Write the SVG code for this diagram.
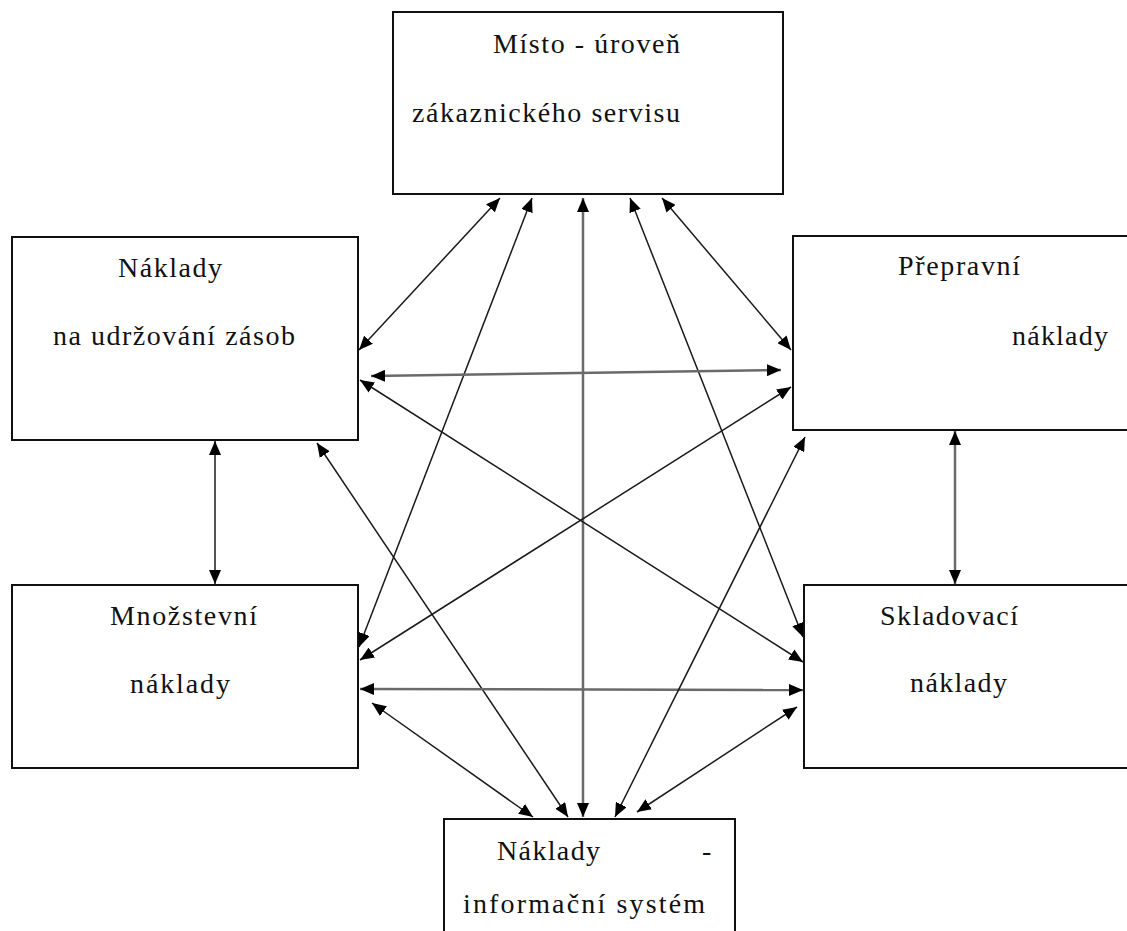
<svg xmlns="http://www.w3.org/2000/svg" width="1127" height="931" viewBox="0 0 1127 931">
<style>
.box{fill:#fff;stroke:#111;stroke-width:2}
.t{font-family:"Liberation Serif","Times New Roman",serif;font-size:28px;fill:#111}
.c{stroke:#1a1a1a;stroke-width:1.5;fill:none;marker-start:url(#ah);marker-end:url(#ah)}
.g{stroke:#6a6a6a;stroke-width:2.5}
</style>
<defs>
<marker id="ah" markerUnits="userSpaceOnUse" markerWidth="15" markerHeight="12" refX="14" refY="6" orient="auto-start-reverse">
<path d="M0,0 L14,6 L0,12 z" fill="#000"/>
</marker>
</defs>
<rect width="1127" height="931" fill="#fff"/>
<g id="node-misto">
<rect class="box" x="393" y="12" width="390" height="182"/>
<text class="t" x="493" y="53" textLength="187" lengthAdjust="spacing">Místo - úroveň</text>
<text class="t" x="412" y="122" textLength="268" lengthAdjust="spacing">zákaznického servisu</text>
</g>
<g id="node-udrzovani">
<rect class="box" x="12" y="237" width="346" height="203"/>
<text class="t" x="118" y="277" textLength="104" lengthAdjust="spacing">Náklady</text>
<text class="t" x="53" y="345" textLength="242" lengthAdjust="spacing">na udržování zásob</text>
</g>
<g id="node-prepravni">
<rect class="box" x="793" y="236" width="345" height="194"/>
<text class="t" x="898" y="275" textLength="122" lengthAdjust="spacing">Přepravní</text>
<text class="t" x="1012" y="345" textLength="96" lengthAdjust="spacing">náklady</text>
</g>
<g id="node-mnozstevni">
<rect class="box" x="12" y="585" width="346" height="183"/>
<text class="t" x="110" y="625" textLength="147" lengthAdjust="spacing">Množstevní</text>
<text class="t" x="130" y="693" textLength="100" lengthAdjust="spacing">náklady</text>
</g>
<g id="node-skladovaci">
<rect class="box" x="804" y="585" width="335" height="183"/>
<text class="t" x="880" y="625" textLength="138" lengthAdjust="spacing">Skladovací</text>
<text class="t" x="910" y="692" textLength="97" lengthAdjust="spacing">náklady</text>
</g>
<g id="node-informacni">
<rect class="box" x="444" y="819" width="291" height="125"/>
<text class="t" x="497" y="860" textLength="103" lengthAdjust="spacing">Náklady</text>
<text class="t" x="702" y="860">-</text>
<text class="t" x="463" y="913" textLength="242" lengthAdjust="spacing">informační systém</text>
</g>
<g id="connectors">
<line class="c" x1="500" y1="198" x2="359" y2="350"/>
<line class="c" x1="532" y1="198" x2="359" y2="647"/>
<line class="c g" x1="583" y1="198" x2="583" y2="817"/>
<line class="c" x1="630" y1="198" x2="803" y2="637"/>
<line class="c" x1="662" y1="198" x2="791" y2="350"/>
<line class="c g" x1="371" y1="376" x2="781" y2="370"/>
<line class="c" x1="360" y1="380" x2="803" y2="662"/>
<line class="c" x1="317" y1="443" x2="568" y2="817"/>
<line class="c" x1="215" y1="441" x2="215" y2="584"/>
<line class="c g" x1="955" y1="431" x2="955" y2="584"/>
<line class="c" x1="360" y1="660" x2="791" y2="387"/>
<line class="c g" x1="360" y1="689" x2="803" y2="690"/>
<line class="c" x1="372" y1="703" x2="533" y2="817"/>
<line class="c" x1="805" y1="437" x2="615" y2="817"/>
<line class="c" x1="797" y1="707" x2="637" y2="812"/>
</g>
</svg>
